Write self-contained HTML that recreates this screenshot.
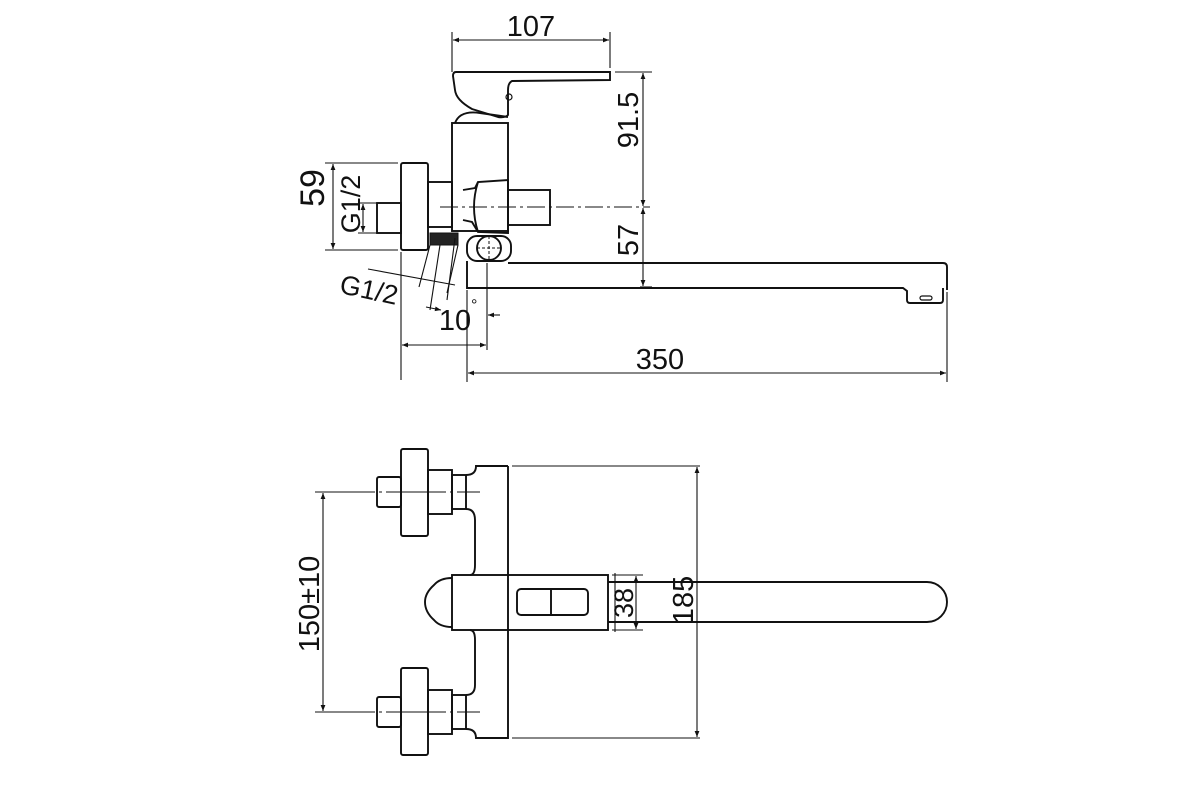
<!DOCTYPE html>
<html><head><meta charset="utf-8"><style>
html,body{margin:0;padding:0;background:#fff;}
svg{display:block}
text{font-family:"Liberation Sans",sans-serif;fill:#111;}
</style></head><body>
<svg width="1200" height="800" viewBox="0 0 1200 800" xmlns="http://www.w3.org/2000/svg">
<defs>
<marker id="a" viewBox="0 0 10 10" refX="10" refY="5" markerWidth="10" markerHeight="6" orient="auto-start-reverse" markerUnits="userSpaceOnUse"><path d="M0,1 L10,5 L0,9 z" fill="#111"/></marker>
</defs>
<g fill="none" stroke="#111" stroke-width="1.9">
<!-- ===== TOP VIEW ===== -->
<line x1="452" y1="32" x2="452" y2="72" stroke-width="1.1"/>
<line x1="610" y1="32" x2="610" y2="68" stroke-width="1.1"/>
<line x1="453" y1="40" x2="609" y2="40" stroke-width="1.1" marker-start="url(#a)" marker-end="url(#a)"/>
<path d="M456,72 L610,72 L610,80 L512,81 Q508,83 508,90 L508,115 Q505,118 498,117 L472,109 Q456,100 455,90 L453,76 Q453,72 456,72 Z"/>
<circle cx="509" cy="97" r="3" stroke-width="1.2"/>
<path d="M455,123 Q460,110 480,113 L508,117"/>
<rect x="452" y="123" width="56" height="108"/>
<rect x="401" y="163" width="27" height="87" rx="2"/>
<rect x="377" y="203" width="24" height="30"/>
<rect x="428" y="182" width="24" height="45"/>
<path d="M463,190 L475,188 L478,182 L508,180 L508,233 L478,232 L472,222 L463,220"/>
<path d="M478,182 Q470,207 478,232"/>
<rect x="508" y="190" width="42" height="35"/>
<line x1="440" y1="207" x2="650" y2="207" stroke-width="1.1" stroke-dasharray="18,4,3,4"/>
<rect x="430" y="233" width="28" height="12" fill="#222" stroke-width="1"/>
<rect x="467" y="236" width="44" height="25" rx="10"/>
<circle cx="489" cy="248" r="12"/>
<line x1="489" y1="236" x2="489" y2="260" stroke-width="1" stroke-dasharray="3,2"/>
<line x1="477" y1="248" x2="501" y2="248" stroke-width="1" stroke-dasharray="3,2"/>
<path d="M508,263 L943,263 Q947,263 947,267 L947,290"/>
<path d="M467,261 L467,288 L903,288 L907,291 L907,300 Q907,303 910,303 L940,303 Q943,303 943,300 L943,288"/>
<rect x="920" y="296" width="12" height="4" rx="2" stroke-width="1.2"/>
<line x1="615" y1="72" x2="652" y2="72" stroke-width="1.1"/>
<line x1="643" y1="73" x2="643" y2="206" stroke-width="1.1" marker-start="url(#a)" marker-end="url(#a)"/>
<line x1="643" y1="208" x2="643" y2="286" stroke-width="1.1" marker-start="url(#a)" marker-end="url(#a)"/>
<line x1="640" y1="287" x2="652" y2="287" stroke-width="1.1"/>
<line x1="325" y1="163" x2="398" y2="163" stroke-width="1.1"/>
<line x1="325" y1="250" x2="398" y2="250" stroke-width="1.1"/>
<line x1="333" y1="164" x2="333" y2="249" stroke-width="1.1" marker-start="url(#a)" marker-end="url(#a)"/>
<line x1="358" y1="203" x2="376" y2="203" stroke-width="1.1"/>
<line x1="358" y1="233" x2="376" y2="233" stroke-width="1.1"/>
<line x1="363" y1="204" x2="363" y2="232" stroke-width="1.1" marker-start="url(#a)" marker-end="url(#a)"/>
<line x1="368" y1="269" x2="455" y2="285" stroke-width="1.1"/>
<line x1="430" y1="245" x2="419" y2="287" stroke-width="1.1"/>
<line x1="458" y1="245" x2="447" y2="293" stroke-width="1.1"/>
<line x1="440" y1="245" x2="430" y2="310" stroke-width="1.1"/>
<line x1="455" y1="238" x2="447" y2="300" stroke-width="1.1"/>
<line x1="487" y1="263" x2="487" y2="350" stroke-width="1.1"/>
<line x1="426" y1="307" x2="441" y2="310" stroke-width="1.1" marker-end="url(#a)"/>
<line x1="500" y1="315" x2="488" y2="315" stroke-width="1.1" marker-end="url(#a)"/>
<line x1="401" y1="252" x2="401" y2="380" stroke-width="1.1"/>
<line x1="402" y1="345" x2="486" y2="345" stroke-width="1.1" marker-start="url(#a)" marker-end="url(#a)"/>
<line x1="467" y1="290" x2="467" y2="382" stroke-width="1.1"/>
<line x1="947" y1="292" x2="947" y2="382" stroke-width="1.1"/>
<line x1="468" y1="373" x2="946" y2="373" stroke-width="1.1" marker-start="url(#a)" marker-end="url(#a)"/>

<!-- ===== BOTTOM VIEW ===== -->
<rect x="401" y="449" width="27" height="87" rx="2"/>
<rect x="377" y="477" width="24" height="30" rx="2"/>
<rect x="428" y="470" width="24" height="44"/>
<rect x="452" y="475" width="14" height="34"/>
<rect x="401" y="668" width="27" height="87" rx="2"/>
<rect x="377" y="697" width="24" height="30" rx="2"/>
<rect x="428" y="690" width="24" height="44"/>
<rect x="452" y="695" width="14" height="34"/>
<path d="M508,466 L476,466 Q476,475 466,475 M466,509 Q475,509 475,520 L475,565 Q475,575 470,575 M470,630 Q475,630 475,640 L475,685 Q475,695 466,695 M466,729 Q476,729 476,738 L508,738 L508,466"/>
<line x1="512" y1="466" x2="700" y2="466" stroke-width="1.1"/>
<line x1="512" y1="738" x2="700" y2="738" stroke-width="1.1"/>
<rect x="452" y="575" width="156" height="55"/>
<path d="M452,578 Q440,578 434,585 Q425,593 425,602 Q425,612 434,620 Q440,627 452,627"/>
<rect x="517" y="589" width="71" height="26" rx="4"/>
<line x1="551" y1="589" x2="551" y2="615"/>
<path d="M608,582 L927,582 A20,20 0 0 1 927,622 L608,622"/>
<line x1="315" y1="492" x2="480" y2="492" stroke-width="1.1" stroke-dasharray="60,4,3,4"/>
<line x1="315" y1="712" x2="480" y2="712" stroke-width="1.1" stroke-dasharray="60,4,3,4"/>
<line x1="323" y1="493" x2="323" y2="711" stroke-width="1.1" marker-start="url(#a)" marker-end="url(#a)"/>
<line x1="697" y1="467" x2="697" y2="737" stroke-width="1.1" marker-start="url(#a)" marker-end="url(#a)"/>
<line x1="612" y1="575" x2="643" y2="575" stroke-width="1.1"/>
<line x1="612" y1="630" x2="643" y2="630" stroke-width="1.1"/>
<line x1="615" y1="573" x2="615" y2="632" stroke-width="1.1"/>
<line x1="636" y1="576" x2="636" y2="629" stroke-width="1.1" marker-start="url(#a)" marker-end="url(#a)"/>
</g>
<g font-size="29" text-anchor="middle" dominant-baseline="central">
<text x="531" y="27">107</text>
<text transform="translate(629,120) rotate(-90)">91.5</text>
<text transform="translate(629,240) rotate(-90)">57</text>
<text x="660" y="360">350</text>
<text font-size="34" transform="translate(313,188) rotate(-90)">59</text>
<text x="455" y="321">10</text>
<text transform="translate(310,604) rotate(-90)">150±10</text>
<text transform="translate(684,600) rotate(-90)">185</text>
<text font-size="27" transform="translate(351,204) rotate(-90)">G1/2</text>
<text font-size="27" transform="translate(369,290) rotate(12)">G1/2</text>
<text font-size="27" transform="translate(624,603) rotate(-90)">38</text>
</g>
<text x="471" y="310" font-size="16">°</text>
</svg>
</body></html>
